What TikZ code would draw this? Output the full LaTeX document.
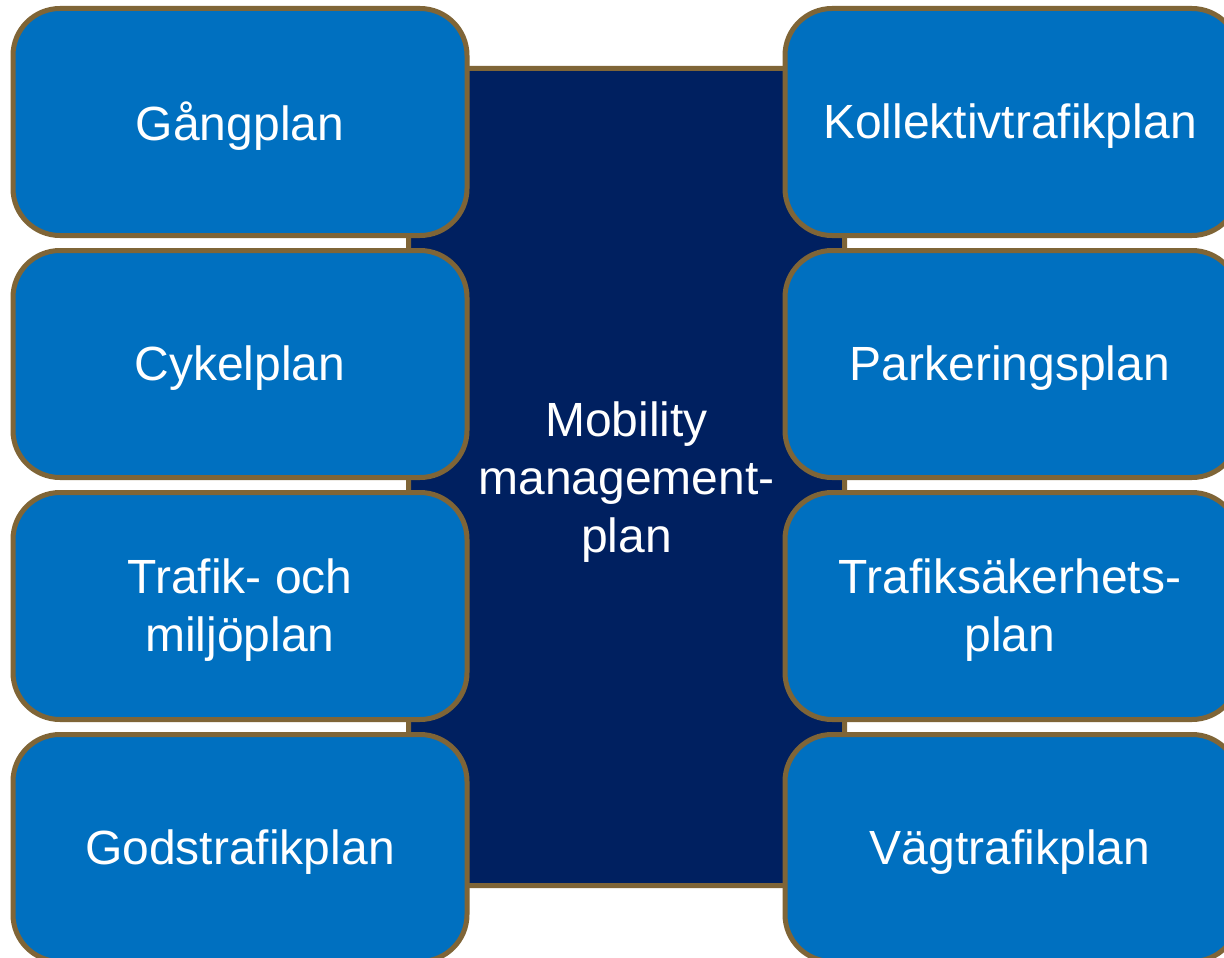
\documentclass[tikz,border=0pt]{standalone}
\usepackage{fontspec}
\setmainfont{Liberation Sans}
\definecolor{boxblue}{RGB}{0,112,192}
\definecolor{navy}{RGB}{0,32,96}
\definecolor{tan}{RGB}{127,101,55}
\begin{document}
\begin{tikzpicture}[x=1pt,y=-1pt,
  plan/.style={draw=tan,line width=5pt,fill=boxblue,rounded corners=47pt,
    minimum width=454pt,minimum height=227pt,inner sep=0pt},
  core/.style={draw=tan,line width=5pt,fill=navy,rounded corners=3pt,
    minimum width=436pt,minimum height=817pt,inner sep=0pt},
  txt/.style={text=white,align=center,inner sep=0pt,
    font=\fontsize{48}{57.6}\selectfont}]
\useasboundingbox (0,0) rectangle (1224,958);
\clip (0,0) rectangle (1224,958);
\fill[white] (0,0) rectangle (1224,958);
\node[core] (mm) at (626.5,477) {};
\node[plan] (l1) at (240,122) {};
\node[plan] (l2) at (240,364) {};
\node[plan] (l3) at (240,606) {};
\node[plan] (l4) at (240,848) {};
\node[plan] (r1) at (1012,122) {};
\node[plan] (r2) at (1012,364) {};
\node[plan] (r3) at (1012,606) {};
\node[plan] (r4) at (1012,848) {};
\node[txt] (tmm) at ([yshift=-5pt]mm.center) {Mobility\\management-\\plan};
\node[txt] (tl1) at ([yshift=-4pt]l1.center) {Gångplan};
\node[txt] (tl2) at ([yshift=-4pt]l2.center) {Cykelplan};
\node[txt] (tl3) at ([yshift=-4pt]l3.center) {Trafik- och\\miljöplan};
\node[txt] (tl4) at ([yshift=-4pt]l4.center) {Godstrafikplan};
\node[txt] (tr1) at ([xshift=-2pt,yshift=-4pt]r1.center) {Kollektivtrafikplan};
\node[txt] (tr2) at ([xshift=-2pt,yshift=-4pt]r2.center) {Parkeringsplan};
\node[txt] (tr3) at ([xshift=-2pt,yshift=-4pt]r3.center) {Trafiksäkerhets-\\plan};
\node[txt] (tr4) at ([xshift=-2pt,yshift=-4pt]r4.center) {Vägtrafikplan};
\end{tikzpicture}
\end{document}
